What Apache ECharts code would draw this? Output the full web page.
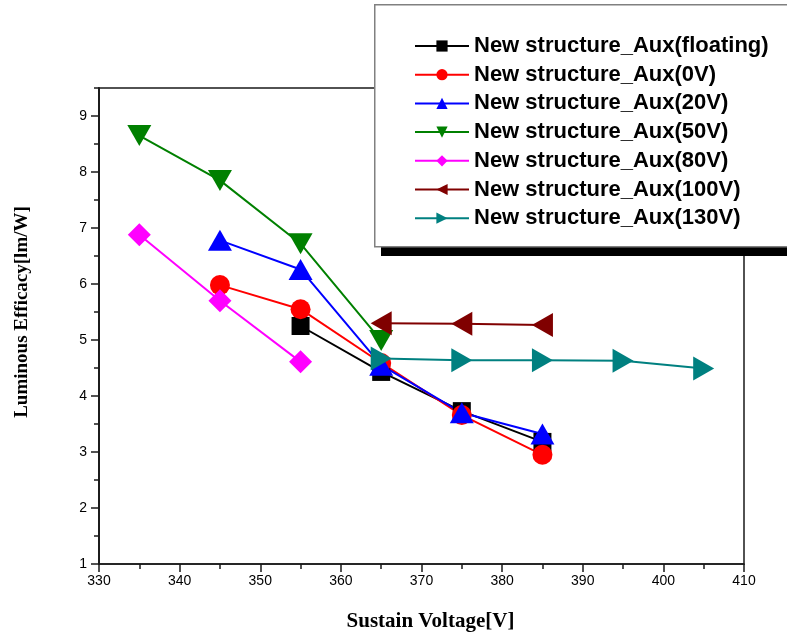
<!DOCTYPE html>
<html>
<head>
<meta charset="utf-8">
<script src="https://cdn.jsdelivr.net/npm/echarts@6/dist/echarts.min.js"></script>
<style>
  html, body { margin: 0; padding: 0; background: #fff; }
  #chart { width: 787px; height: 636px; }
</style>
</head>
<body>
<div id="chart"></div>
<script>
// Sustain voltage (V) for each measured point, per auxiliary-electrode bias
const seriesNames = [
  'New structure_Aux(floating)',
  'New structure_Aux(0V)',
  'New structure_Aux(20V)',
  'New structure_Aux(50V)',
  'New structure_Aux(80V)',
  'New structure_Aux(100V)',
  'New structure_Aux(130V)'
];

const vFloating = [355, 365, 375, 385];
const effFloating = [5.25, 4.43, 3.73, 3.18];

const v0 = [345, 355, 365, 375, 385];
const eff0 = [5.98, 5.55, 4.59, 3.66, 2.95];

const v20 = [345, 355, 365, 375, 385];
const eff20 = [6.78, 6.26, 4.55, 3.70, 3.32];

const v50 = [335, 345, 355, 365];
const eff50 = [8.65, 7.85, 6.72, 4.99];

const v80 = [335, 345, 355];
const eff80 = [6.88, 5.70, 4.61];

const v100 = [365, 375, 385];
const eff100 = [5.30, 5.29, 5.27];

const v130 = [365, 375, 385, 395, 405];
const eff130 = [4.67, 4.64, 4.64, 4.63, 4.49];

const yTickLabels = [1, 2, 3, 4, 5, 6, 7, 8, 9];

const pair = (xs, ys) => xs.map((x, i) => [x, ys[i]]);

const axisColor = '#1a1a1a';
const sansFont = "'Liberation Sans', Arial, sans-serif";
const serifFont = "'Liberation Serif', 'Times New Roman', serif";

function lineSeries(name, xs, ys, color, symbol, size, rotate) {
  return {
    name: name,
    type: 'line',
    data: pair(xs, ys),
    symbol: symbol,
    symbolSize: size,
    symbolRotate: rotate || 0,
    showAllSymbol: true,
    color: color,
    lineStyle: { color: color, width: 2 },
    itemStyle: { color: color, opacity: 1 },
    emphasis: { disabled: true },
    animation: false
  };
}

const chart = echarts.init(document.getElementById('chart'), null, { renderer: 'canvas' });

chart.setOption({
  animation: false,
  grid: {
    left: 99, right: 43, top: 88, bottom: 72,
    outerBoundsMode: 'none',
    containLabel: false,
    show: true,
    borderColor: axisColor,
    borderWidth: 1.5,
    backgroundColor: 'transparent'
  },
  xAxis: {
    type: 'value',
    min: 330, max: 410, interval: 10,
    name: 'Sustain Voltage[V]',
    nameLocation: 'middle',
    nameGap: 47,
    nameTextStyle: { fontFamily: serifFont, fontWeight: 'bold', fontSize: 21, color: '#000', padding: [0, 0, 0, 18] },
    axisLine: { show: true, lineStyle: { color: axisColor, width: 1.5 } },
    axisTick: { show: true, inside: false, length: 8, lineStyle: { color: axisColor, width: 1.5 } },
    minorTick: { show: true, splitNumber: 2, length: 5, lineStyle: { color: axisColor, width: 1.5 } },
    axisLabel: { color: '#000', fontFamily: sansFont, fontSize: 14, margin: 10 },
    splitLine: { show: false },
    minorSplitLine: { show: false }
  },
  yAxis: [
    {
      // half-unit minor ticks
      type: 'value',
      min: 1, max: 9.5, interval: 0.5,
      position: 'left',
      axisLine: { show: true, lineStyle: { color: axisColor, width: 1.5 } },
      axisTick: { show: true, inside: false, length: 5, lineStyle: { color: axisColor, width: 1.5 } },
      axisLabel: { show: false },
      splitLine: { show: false }
    },
    {
      // labelled unit ticks
      type: 'value',
      min: 1, max: 9.5, interval: 1,
      position: 'left',
      name: 'Luminous Efficacy[lm/W]',
      nameLocation: 'middle',
      nameGap: 67,
      nameTextStyle: { fontFamily: serifFont, fontWeight: 'bold', fontSize: 19, color: '#000', padding: [0, 0, 0, 28] },
      axisLine: { show: true, lineStyle: { color: axisColor, width: 1.5 } },
      axisTick: { show: true, inside: false, length: 8, customValues: yTickLabels, lineStyle: { color: axisColor, width: 1.5 } },
      axisLabel: {
        color: '#000', fontFamily: sansFont, fontSize: 14, margin: 12,
        customValues: yTickLabels,
        formatter: v => (Number.isInteger(v) ? String(v) : '')
      },
      splitLine: { show: false }
    }
  ],
  legend: {
    orient: 'vertical',
    left: 414,
    top: 35,
    z: 60,
    padding: 0,
    itemWidth: 54,
    itemHeight: 14,
    itemGap: 6.7,
    textStyle: { color: '#000', fontFamily: sansFont, fontWeight: 'bold', fontSize: 22 },
    data: seriesNames,
    selectedMode: false
  },
  graphic: [
    {
      type: 'rect', left: 381, top: 236, z: 50,
      shape: { width: 420, height: 20 },
      style: { fill: '#000' }
    },
    {
      type: 'rect', left: 374, top: 4, z: 51,
      shape: { width: 430, height: 242 },
      style: { fill: '#fff', stroke: '#808080', lineWidth: 1.5 }
    }
  ],
  series: [
    lineSeries(seriesNames[0], vFloating, effFloating, '#000000', 'rect', 18),
    lineSeries(seriesNames[1], v0, eff0, '#ff0000', 'circle', 20),
    lineSeries(seriesNames[2], v20, eff20, '#0000ff', 'triangle', [24, 21]),
    lineSeries(seriesNames[3], v50, eff50, '#008000', 'triangle', [24, 21], 180),
    lineSeries(seriesNames[4], v80, eff80, '#ff00ff', 'diamond', 23),
    lineSeries(seriesNames[5], v100, eff100, '#800000', 'triangle', [24, 21], 90),
    lineSeries(seriesNames[6], v130, eff130, '#008080', 'triangle', [24, 21], -90)
  ]
});
</script>
</body>
</html>
